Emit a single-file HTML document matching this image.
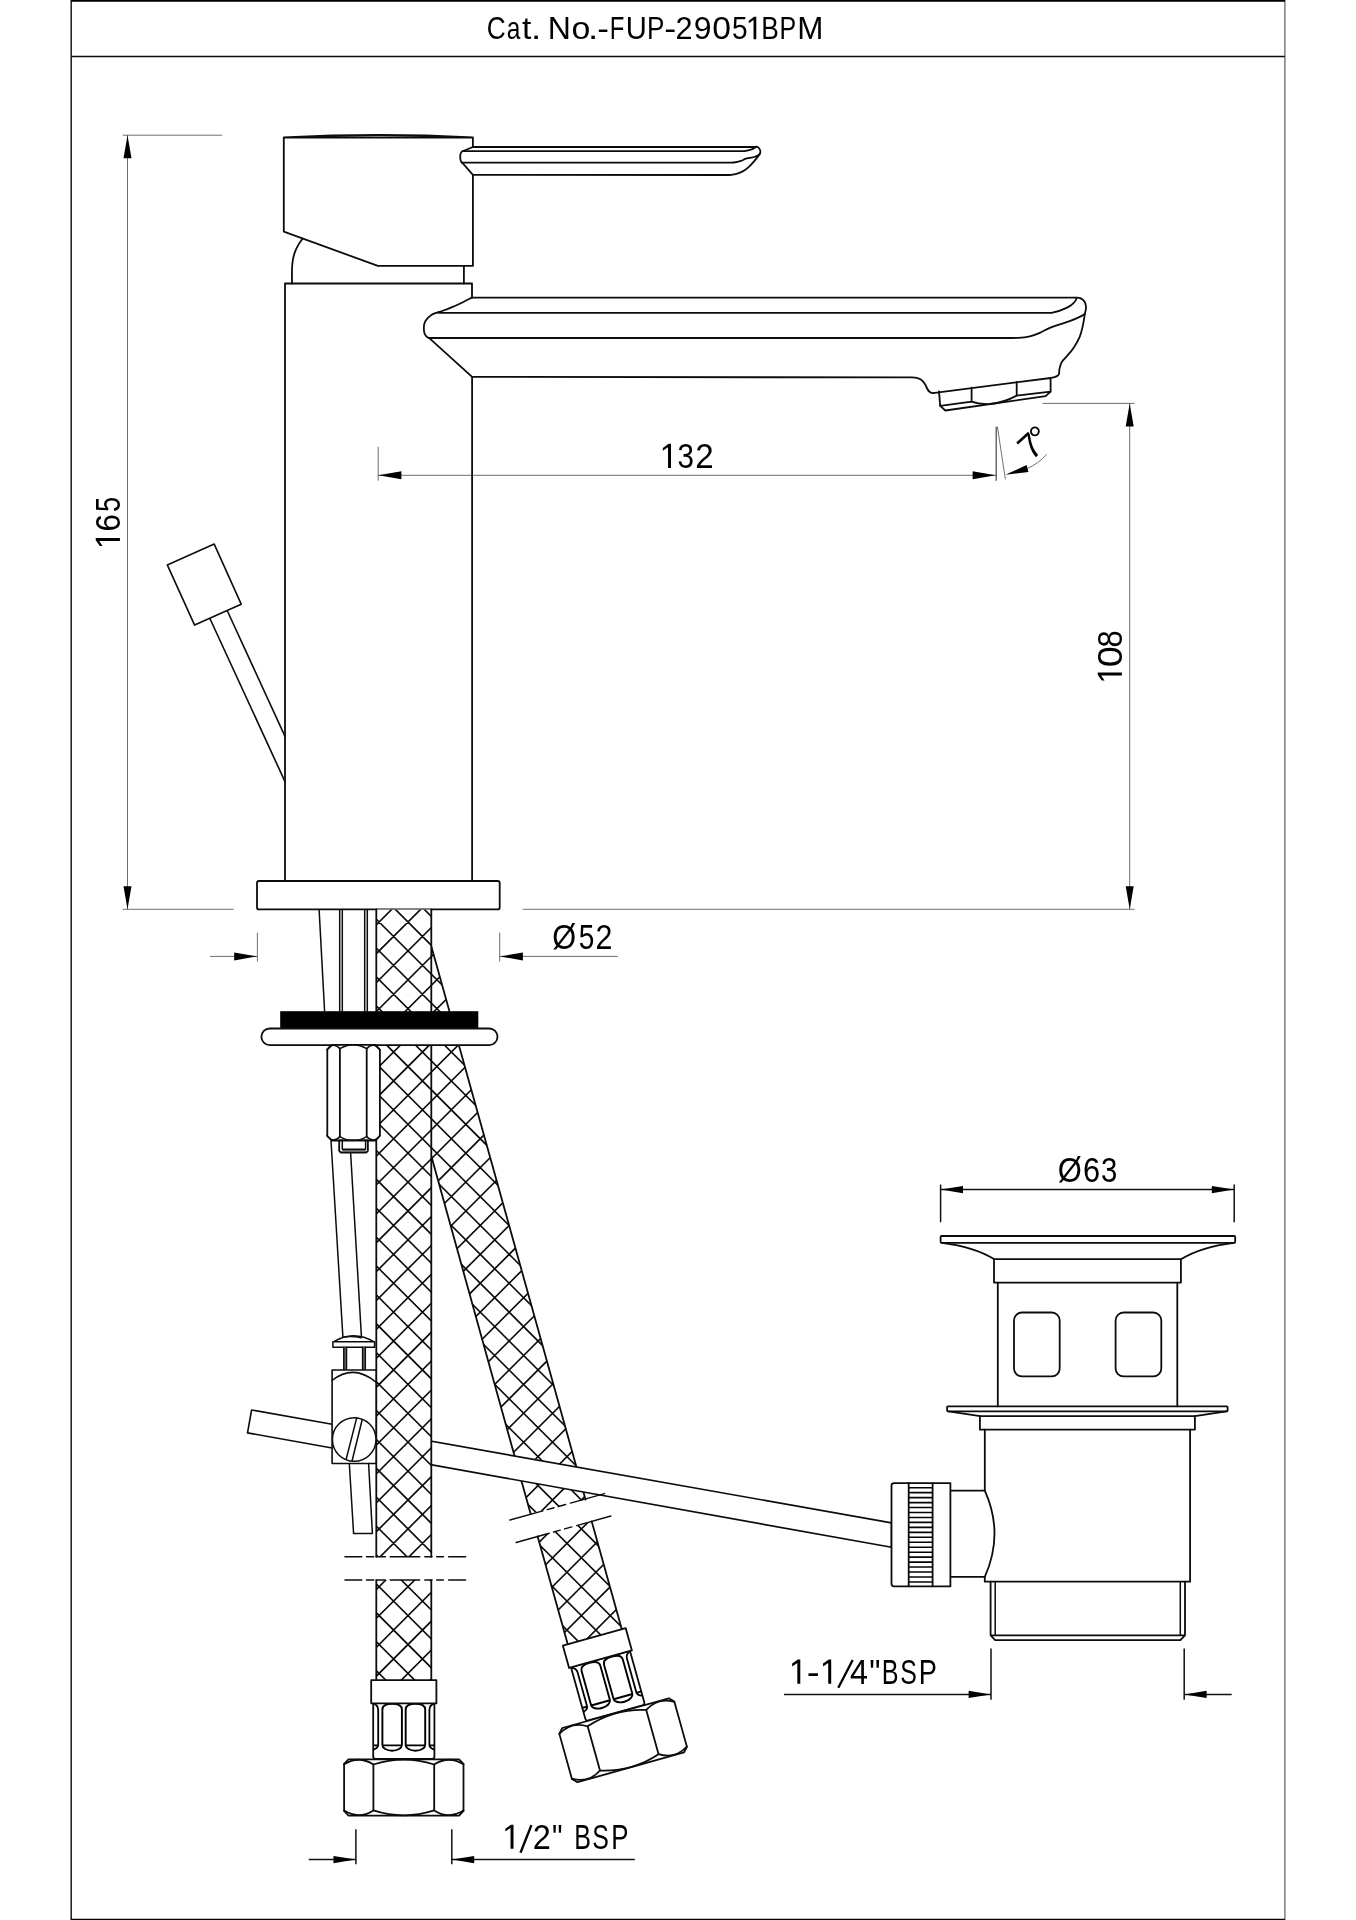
<!DOCTYPE html>
<html><head><meta charset="utf-8"><title>Cat. No.-FUP-29051BPM</title>
<style>
html,body{margin:0;padding:0;background:#fff}
svg{display:block;filter:grayscale(1)}
text{font-family:"Liberation Sans",sans-serif;fill:#000}
.m{fill:none;stroke:#0c0c0c;stroke-width:1.8;stroke-linejoin:round;stroke-linecap:round}
.w{fill:#fff;stroke:#0c0c0c;stroke-width:1.8;stroke-linejoin:round;stroke-linecap:round}
.n{fill:none;stroke:#0c0c0c;stroke-width:1.5;stroke-linejoin:round;stroke-linecap:round}
.t{fill:none;stroke:#555;stroke-width:0.85}
.d{fill:none;stroke:#111;stroke-width:1.5}
.a{fill:#000;stroke:none}
</style></head><body>
<svg width="1356" height="1920" viewBox="0 0 1356 1920">
<rect x="0" y="0" width="1356" height="1920" fill="#fff"/>

<g id="frame">
<path d="M71.2,1920 V0" fill="none" stroke="#1a1a1a" stroke-width="1.5"/>
<path d="M1284.9,1920 V0" fill="none" stroke="#555" stroke-width="1.15"/>
<path d="M71.2,1919.5 H1284.9" fill="none" stroke="#000" stroke-width="1.5"/>
<path d="M71.2,0.9 H1284.9" fill="none" stroke="#000" stroke-width="1.8"/>
<path d="M71.2,56.5 H1284.9" fill="none" stroke="#0c0c0c" stroke-width="1.45"/>
<text transform="translate(486.66,39.2) scale(0.820,1)" font-size="32">C</text><text transform="translate(506.87,39.2) scale(0.766,1)" font-size="32">a</text><text transform="translate(522,39.2) scale(1.050,1)" font-size="32">t</text><text transform="translate(531.03,39.2) scale(1.150,1)" font-size="32">.</text><text transform="translate(547.77,39.2) scale(1.001,1)" font-size="32">N</text><text transform="translate(571.48,39.2) scale(1.059,1)" font-size="32">o</text><text transform="translate(588.08,39.2) scale(1.150,1)" font-size="32">.</text><text transform="translate(597.26,39.2) scale(1.097,1)" font-size="32">-</text><text transform="translate(609.74,39.2) scale(0.748,1)" font-size="32">F</text><text transform="translate(625.75,39.2) scale(0.913,1)" font-size="32">U</text><text transform="translate(647.06,39.2) scale(0.816,1)" font-size="32">P</text><text transform="translate(664.32,39.2) scale(1.122,1)" font-size="32">-</text><text transform="translate(675.56,39.2) scale(0.959,1)" font-size="32">2</text><text transform="translate(693.79,39.2) scale(1.001,1)" font-size="32">9</text><text transform="translate(712.29,39.2) scale(1.053,1)" font-size="32">0</text><text transform="translate(732.08,39.2) scale(0.877,1)" font-size="32">5</text><text transform="translate(761.14,39.2) scale(0.822,1)" font-size="32">B</text><text transform="translate(779.45,39.2) scale(0.781,1)" font-size="32">P</text><text transform="translate(797.13,39.2) scale(0.981,1)" font-size="32">M</text><path class="a" d="M756.3,39.2 L756.3,16.86 L754.09,16.86 L748.76,20.63 L748.76,23.2 L753.54,19.98 L753.54,39.2 Z"/>
</g>
<g id="dims">
<path class="t" d="M122.7,135.2 H222.3 M127.5,135.2 V909.3 M122.6,909.3 H233.6"/>
<path class="a" d="M127.5,135.2 L131.5,158.2 L123.5,158.2 Z"/>
<path class="a" d="M127.5,909.3 L123.5,886.3 L131.5,886.3 Z"/>
<g transform="translate(119.9,546.4) rotate(-90)"><text transform="translate(14.9,0) scale(0.909,1)" font-size="34.6">6</text><text transform="translate(34.31,0) scale(0.787,1)" font-size="34.6">5</text><path class="a" d="M8.45,0 L8.45,-24.16 L6.06,-24.16 L0.3,-20.08 L0.3,-17.3 L5.47,-20.78 L5.47,0 Z"/></g>
<path class="t" d="M378.2,446.8 V480.7 M378.2,475.3 H996.2"/>
<path d="M996.2,426.7 V480.7" fill="none" stroke="#444" stroke-width="1.2"/><path d="M997.4,426.7 L1005.4,479.4" fill="none" stroke="#333" stroke-width="0.7"/>
<path class="a" d="M378.4,475.3 L401.4,471.3 L401.4,479.3 Z"/>
<path class="a" d="M995.6,475.3 L972.6,479.3 L972.6,471.3 Z"/>
<text transform="translate(677.58,468) scale(0.854,1)" font-size="34.6">3</text><text transform="translate(695.14,468) scale(0.957,1)" font-size="34.6">2</text><path class="a" d="M671,468 L671,443.84 L668.61,443.84 L662.85,447.92 L662.85,450.7 L668.02,447.22 L668.02,468 Z"/>
<path class="t" d="M1027,468.6 Q1038,464 1046.8,454.3"/>
<path class="a" d="M1005.4,474.8 L1026.52,465 L1028.5,471.92 Z"/>
<text transform="translate(1031.3,461.4) rotate(-42.6)" font-size="35" text-anchor="start">7<tspan dx="-3.5">&#176;</tspan></text>
<path class="t" d="M1042.5,403.4 H1134.6 M1129.7,403.4 V909.3 M522.6,909.3 H1134.6"/>
<path class="a" d="M1129.7,403.4 L1133.7,426.4 L1125.7,426.4 Z"/>
<path class="a" d="M1129.7,909.3 L1125.7,886.3 L1133.7,886.3 Z"/>
<g transform="translate(1121.9,681.2) rotate(-90)"><text transform="translate(14.02,0) scale(1.094,1)" font-size="34.6">0</text><text transform="translate(33.77,0) scale(0.892,1)" font-size="34.6">8</text><path class="a" d="M8.8,0 L8.8,-24.16 L6.41,-24.16 L0.65,-20.08 L0.65,-17.3 L5.82,-20.78 L5.82,0 Z"/></g>
<path class="t" d="M257.4,932.7 V961.6 M210,956.4 H257.4 M499.7,932.7 V961.6 M499.7,956.4 H617.9"/>
<path class="a" d="M257.2,956.4 L234.2,960.4 L234.2,952.4 Z"/>
<path class="a" d="M499.9,956.4 L522.9,952.4 L522.9,960.4 Z"/>
<text transform="translate(552.22,948.7) scale(0.889,1)" font-size="34.6">&#216;</text><text transform="translate(578.68,948.7) scale(0.811,1)" font-size="34.6">5</text><text transform="translate(595.38,948.7) scale(0.881,1)" font-size="34.6">2</text>
</g>
<g id="faucet">
<path class="m" d="M283.8,137.5 L472.9,137.4 V147 M283.8,137.5 Q378,132.6 472.9,137.4 M472.9,174.9 V265.9 H377.9 L283.8,231.6 V137.5"/>
<path class="m" d="M472.9,147 H754.2 C754.6,146.87 755.78,146.47 756.6,146.7 C757.42,146.93 758.47,147.52 759.1,148.3 C759.73,149.08 760.28,150.52 760.4,151.4 C760.52,152.28 760.23,152.73 759.8,153.6 C759.37,154.47 758.73,155.33 757.8,156.6 C756.87,157.87 755.68,159.48 754.2,161.2 C752.72,162.92 750.73,165.25 748.9,166.9 C747.07,168.55 745.27,169.93 743.2,171.1 C741.13,172.27 738.72,173.25 736.5,173.9 C734.28,174.55 731,174.82 729.9,175 L472.9,174.9 L462.4,162.9 Q460.2,161.6 460.2,156.5 Q460.2,151.9 463.2,151 L472.9,147"/>
<path class="m" d="M462.5,151.1 H744.5 C745.38,150.9 748.32,150.32 749.8,149.9 C751.28,149.48 752.33,149.1 753.4,148.6 C754.47,148.1 755.73,147.18 756.2,146.9"/>
<path class="m" d="M461.6,162.6 H728 C728.98,162.58 731.73,162.78 733.9,162.5 C736.07,162.22 739.08,161.52 741,160.9 C742.92,160.28 743.93,159.3 745.4,158.8 C746.87,158.3 748.33,158.2 749.8,157.9 C751.27,157.6 752.8,157.42 754.2,157 C755.6,156.58 757.25,155.93 758.2,155.4 C759.15,154.87 759.62,154.07 759.9,153.8"/>
<path class="m" d="M302.7,238.6 C301.97,239.65 299.62,242.6 298.3,244.9 C296.98,247.2 295.72,249.82 294.8,252.4 C293.88,254.98 293.27,257.6 292.8,260.4 C292.33,263.2 292.13,265.35 292,269.2 C291.87,273.05 292,281.12 292,283.5 M463.9,265.9 V283.5"/>
<path class="m" d="M285,881 V283.5 H472 V297.6 M472.1,376.9 V881"/>
<path class="m" d="M472,297.6 H1076.4 C1077,297.68 1078.9,297.72 1080,298.1 C1081.1,298.48 1082.12,299.02 1083,299.9 C1083.88,300.78 1084.8,302.02 1085.3,303.4 C1085.8,304.78 1086.08,306.4 1086,308.2 C1085.92,310 1085.3,311.43 1084.8,314.2 C1084.3,316.97 1083.85,321.03 1083,324.8 C1082.15,328.57 1081.37,332.82 1079.7,336.8 C1078.03,340.78 1075.22,345.38 1073,348.7 C1070.78,352.02 1068.27,354.48 1066.4,356.7 C1064.53,358.92 1062.95,360.02 1061.8,362 C1060.65,363.98 1059.95,366.72 1059.5,368.6 C1059.05,370.48 1059.42,372.1 1059.1,373.3 C1058.78,374.5 1058.37,375.15 1057.6,375.8 C1056.83,376.45 1055.67,376.83 1054.5,377.2 C1053.33,377.57 1051.25,377.87 1050.6,378"/>
<path class="m" d="M472,297.6 C470.32,298.45 465.32,301.07 461.9,302.7 C458.48,304.33 454.8,306.02 451.5,307.4 C448.2,308.78 444.45,310.15 442.1,311 C439.75,311.85 439.13,311.87 437.4,312.5 C435.67,313.13 433.43,313.73 431.7,314.8 C429.97,315.87 428.22,317.45 427,318.9 C425.78,320.35 424.92,321.95 424.4,323.5 C423.88,325.05 423.85,326.63 423.85,328.2 C423.85,329.77 423.96,331.5 424.4,332.9 C424.84,334.3 425.68,335.72 426.5,336.6 C427.32,337.48 428.83,337.93 429.3,338.2 L472.1,376.9 L912.3,377.4 C919.5,377.4 923.5,380.7 925.6,385.2 C927.2,389 928.4,392.9 932.8,393.1"/>
<path class="m" d="M437.4,312.7 Q440,312.9 446,312.9 H1051.5 C1059,311.6 1074.3,306.5 1076.6,298.2"/>
<path class="m" d="M429,338 H1006 C1008,337.98 1014.02,338.13 1018,337.85 C1021.98,337.57 1026.25,337.12 1029.9,336.3 C1033.55,335.48 1036.58,334.32 1039.9,332.9 C1043.22,331.48 1046.48,329.23 1049.8,327.8 C1053.12,326.37 1056.48,325.4 1059.8,324.3 C1063.12,323.2 1066.38,322.43 1069.7,321.2 C1073.02,319.97 1077.18,318.12 1079.7,316.9 C1082.22,315.68 1083.95,314.4 1084.8,313.9"/>
<path class="m" d="M932.8,393.1 L1050.6,378 V391.6 L1045.6,396.2 L945.3,410.5 L940.2,405.9 L939,391.4"/>
<path class="m" d="M940.2,405.9 L971.6,401.7 V387.6 M1016.7,382 V395.6 L1050.6,391.6 M971.6,401.7 Q979,404.5 990,404 Q1004,402.5 1016.7,395.6"/>
<rect class="m" x="257" y="881" width="242.7" height="28.4" rx="2"/>
<path class="m" style="stroke-width:1.6" d="M167.3,564.9 L214.2,544.1 L241.2,604.2 L194.6,625.1 Z M209.9,618.5 L285,781.6 M227.4,611 L285,736.4"/>
</g>
<g id="under">
<path class="m" style="stroke-width:1.5" d="M319.1,909.4 L324.6,1011.5"/>
<path class="n" d="M339.7,909.4 V1011.5 M342.3,909.4 V1011.5 M364.7,909.4 V1011.5 M367.3,909.4 V1011.5"/>
<clipPath id="hc1"><path d="M431.3,946.2 L585.5,1499.6 L530.6,1513.8 L431.1,1155.3 L420,1155.3 L420,946.2 Z"/></clipPath><path d="M431.3,946.2 L585.5,1499.6 L530.6,1513.8 L431.1,1155.3 L420,1155.3 L420,946.2 Z" fill="#fff" stroke="none"/><path clip-path="url(#hc1)" d="M418,883.1 L590,711.1 M418,912 L590,740 M418,940.9 L590,768.9 M418,969.8 L590,797.8 M418,998.7 L590,826.7 M418,1027.6 L590,855.6 M418,1056.5 L590,884.5 M418,1085.4 L590,913.4 M418,1114.3 L590,942.3 M418,1143.2 L590,971.2 M418,1172.1 L590,1000.1 M418,1201 L590,1029 M418,1229.9 L590,1057.9 M418,1258.8 L590,1086.8 M418,1287.7 L590,1115.7 M418,1316.6 L590,1144.6 M418,1345.5 L590,1173.5 M418,1374.4 L590,1202.4 M418,1403.3 L590,1231.3 M418,1432.2 L590,1260.2 M418,1461.1 L590,1289.1 M418,1490 L590,1318 M418,1518.9 L590,1346.9 M418,1547.8 L590,1375.8 M418,1576.7 L590,1404.7 M418,1605.6 L590,1433.6 M418,1634.5 L590,1462.5 M418,1663.4 L590,1491.4 M418,1692.3 L590,1520.3 M418,1721.2 L590,1549.2 M418,1567.8 L590,1739.8 M418,1538.9 L590,1710.9 M418,1510 L590,1682 M418,1481.1 L590,1653.1 M418,1452.2 L590,1624.2 M418,1423.3 L590,1595.3 M418,1394.4 L590,1566.4 M418,1365.5 L590,1537.5 M418,1336.6 L590,1508.6 M418,1307.7 L590,1479.7 M418,1278.8 L590,1450.8 M418,1249.9 L590,1421.9 M418,1221 L590,1393 M418,1192.1 L590,1364.1 M418,1163.2 L590,1335.2 M418,1134.3 L590,1306.3 M418,1105.4 L590,1277.4 M418,1076.5 L590,1248.5 M418,1047.6 L590,1219.6 M418,1018.7 L590,1190.7 M418,989.8 L590,1161.8 M418,960.9 L590,1132.9 M418,932 L590,1104 M418,903.1 L590,1075.1 M418,874.2 L590,1046.2 M418,845.3 L590,1017.3 M418,816.4 L590,988.4 M418,787.5 L590,959.5 M418,758.6 L590,930.6 M418,729.7 L590,901.7" fill="none" stroke="#0c0c0c" stroke-width="1.65"/>
<path class="m" d="M431.3,946.2 L585.5,1499.6 M431.1,1155.3 L530.6,1513.8"/>
<path class="w" style="stroke-width:1.6" d="M251.6,1410 L332.1,1424.25 L340,1425.01 L891.5,1522.85 L891.5,1547.3 L340,1448.36 L332.1,1448 L247.5,1432.9 Z"/>
<clipPath id="hc2"><path d="M376.3,909.4 H431.3 V1556.8 H376.3 Z"/></clipPath><path d="M376.3,909.4 H431.3 V1556.8 H376.3 Z" fill="#fff" stroke="none"/><path clip-path="url(#hc2)" d="M374,869.3 L434,809.3 M374,898.2 L434,838.2 M374,927.1 L434,867.1 M374,956 L434,896 M374,984.9 L434,924.9 M374,1013.8 L434,953.8 M374,1042.7 L434,982.7 M374,1071.6 L434,1011.6 M374,1100.5 L434,1040.5 M374,1129.4 L434,1069.4 M374,1158.3 L434,1098.3 M374,1187.2 L434,1127.2 M374,1216.1 L434,1156.1 M374,1245 L434,1185 M374,1273.9 L434,1213.9 M374,1302.8 L434,1242.8 M374,1331.7 L434,1271.7 M374,1360.6 L434,1300.6 M374,1389.5 L434,1329.5 M374,1418.4 L434,1358.4 M374,1447.3 L434,1387.3 M374,1476.2 L434,1416.2 M374,1505.1 L434,1445.1 M374,1534 L434,1474 M374,1562.9 L434,1502.9 M374,1591.8 L434,1531.8 M374,1620.7 L434,1560.7 M374,1649.6 L434,1589.6 M374,1610.5 L434,1670.5 M374,1581.6 L434,1641.6 M374,1552.7 L434,1612.7 M374,1523.8 L434,1583.8 M374,1494.9 L434,1554.9 M374,1466 L434,1526 M374,1437.1 L434,1497.1 M374,1408.2 L434,1468.2 M374,1379.3 L434,1439.3 M374,1350.4 L434,1410.4 M374,1321.5 L434,1381.5 M374,1292.6 L434,1352.6 M374,1263.7 L434,1323.7 M374,1234.8 L434,1294.8 M374,1205.9 L434,1265.9 M374,1177 L434,1237 M374,1148.1 L434,1208.1 M374,1119.2 L434,1179.2 M374,1090.3 L434,1150.3 M374,1061.4 L434,1121.4 M374,1032.5 L434,1092.5 M374,1003.6 L434,1063.6 M374,974.7 L434,1034.7 M374,945.8 L434,1005.8 M374,916.9 L434,976.9 M374,888 L434,948 M374,859.1 L434,919.1 M374,830.2 L434,890.2 M374,801.3 L434,861.3" fill="none" stroke="#0c0c0c" stroke-width="1.65"/>
<path class="m" d="M376.3,909.4 V1556.8 M431.3,909.4 V1556.8"/>
<clipPath id="hc3"><path d="M376.3,1580.1 H431.3 V1680.1 H376.3 Z"/></clipPath><path d="M376.3,1580.1 H431.3 V1680.1 H376.3 Z" fill="#fff" stroke="none"/><path clip-path="url(#hc3)" d="M374,1534 L434,1474 M374,1562.9 L434,1502.9 M374,1591.8 L434,1531.8 M374,1620.7 L434,1560.7 M374,1649.6 L434,1589.6 M374,1678.5 L434,1618.5 M374,1707.4 L434,1647.4 M374,1736.3 L434,1676.3 M374,1765.2 L434,1705.2 M374,1794.1 L434,1734.1 M374,1726.1 L434,1786.1 M374,1697.2 L434,1757.2 M374,1668.3 L434,1728.3 M374,1639.4 L434,1699.4 M374,1610.5 L434,1670.5 M374,1581.6 L434,1641.6 M374,1552.7 L434,1612.7 M374,1523.8 L434,1583.8 M374,1494.9 L434,1554.9 M374,1466 L434,1526" fill="none" stroke="#0c0c0c" stroke-width="1.65"/>
<path class="m" d="M376.3,1580.1 V1680.1 M431.3,1580.1 V1680.1"/>
<rect x="280.2" y="1011.2" width="198.1" height="17.4" fill="#000"/>
<rect class="w" x="261.4" y="1028.5" width="236.1" height="16.6" rx="8.3"/>
<path class="w" d="M331.8,1044.9 H375.4 L379.9,1049.6 V1135.8 L375.4,1140.5 H331.8 L327.3,1135.8 V1049.6 Z"/>
<path class="m" d="M339.9,1048.7 V1136.6 M366.7,1048.7 V1136.6"/>
<path class="n" d="M326.9,1049.7 Q333.3,1041.2 339.9,1048.7 Q353.3,1040.7 366.7,1048.7 Q373.3,1041.2 379.7,1049.7 M326.9,1135.6 Q333.3,1144.1 339.9,1136.6 Q353.3,1144.6 366.7,1136.6 Q373.3,1144.1 379.7,1135.6"/>
<path class="w" d="M339.2,1140.5 H367.9 V1150.8 L366.2,1152.5 H340.9 L339.2,1150.8 Z"/>
<path d="M342.3,1149.2 H365.6 V1152 H342.3 Z" fill="#666" stroke="none"/>
<path class="n" d="M342.3,1140.5 V1149.2 H365.6 V1140.5"/>
<path class="m" style="stroke-width:1.5" d="M331,1140.5 L342.9,1337.1 M350.6,1152.5 L361.5,1337.9"/>
<path class="w" style="stroke-width:1.5" d="M333.4,1341.8 Q353.7,1329.5 374.2,1341.8 Z"/>
<path class="m" style="stroke-width:1.4" d="M342.9,1337.1 Q352,1335.6 361.5,1337.9"/>
<rect class="w" style="stroke-width:1.5" x="332.9" y="1341.8" width="41.7" height="5.4"/>
<path d="M343.8,1347.2 H346.5 V1370 H343.8 Z M362.6,1347.2 H365.3 V1370 H362.6 Z" fill="#777" stroke="none"/>
<path class="n" d="M343.8,1347.2 V1370 M346.5,1347.2 V1370 M362.6,1347.2 V1370 M365.3,1347.2 V1370"/>
<rect class="w" style="stroke-width:1.6" x="332.1" y="1370" width="44" height="93.5"/>
<path class="m" style="stroke-width:1.5" d="M332.1,1380.4 Q353.5,1363.5 376,1382.1"/>
<circle class="w" style="stroke-width:1.5" cx="354.2" cy="1439.5" r="21.8"/>
<path class="m" style="stroke-width:1.5" d="M356.7,1417.9 L346.3,1458.8 M362.1,1420 L352.1,1460.8"/>
<path class="m" style="stroke-width:1.5" d="M349.3,1463.5 L353.6,1533.6 H372.4 L368.6,1463.5"/>
<path class="m" style="stroke-width:1.5" stroke-linecap="butt" d="M345,1556.8 H361.8 M366.5,1556.8 H373.7 M376.3,1556.8 H385.4 M390.2,1556.8 H419.7 M424.8,1556.8 H432 M436.7,1556.8 H443.4 M448.6,1556.8 H465.6"/>
<path class="m" style="stroke-width:1.5" stroke-linecap="butt" d="M345,1580.1 H361.8 M366.5,1580.1 H373.7 M376.3,1580.1 H385.4 M390.2,1580.1 H419.7 M424.8,1580.1 H432 M436.7,1580.1 H443.4 M448.6,1580.1 H465.6"/>
<g transform="translate(403.8,1680.1)"><path class="w" d="M-30.6,23 V76.4 Q-30.6,78.9 -28.1,78.9 H28.1 Q30.6,78.9 30.6,76.4 V23 Z"/><path d="M-1.9,29.5 C-1.9,25.5 -6.19,23.7 -11.65,23.7 C-17.11,23.7 -21.4,25.5 -21.4,29.5 V65 C-21.4,68 -17.11,70.6 -11.65,70.6 C-6.19,70.6 -1.9,68 -1.9,65 Z M-1.9,65.3 H-21.4" fill="none" stroke="#000" stroke-width="1.9" stroke-linejoin="round"/><path d="M-30.6,23.6 Q-25.6,25 -25.6,30 V65 Q-25.6,68 -30.6,69.5 M-30.6,65.2 H-25.6" fill="none" stroke="#000" stroke-width="1.8" stroke-linejoin="round"/><path d="M1.9,29.5 C1.9,25.5 6.19,23.7 11.65,23.7 C17.11,23.7 21.4,25.5 21.4,29.5 V65 C21.4,68 17.11,70.6 11.65,70.6 C6.19,70.6 1.9,68 1.9,65 Z M1.9,65.3 H21.4" fill="none" stroke="#000" stroke-width="1.9" stroke-linejoin="round"/><path d="M30.6,23.6 Q25.6,25 25.6,30 V65 Q25.6,68 30.6,69.5 M30.6,65.2 H25.6" fill="none" stroke="#000" stroke-width="1.8" stroke-linejoin="round"/><rect class="w" x="-32.6" y="0" width="65.2" height="23.2"/><path class="w" d="M-55.3,79.2 H55.3 L59.7,83.8 V130.9 L55.3,135.5 H-55.3 L-59.7,130.9 V83.8 Z"/><path class="m" d="M-30.4,84.4 V130.3 M30.4,84.4 V130.3"/><path class="m" d="M-59.7,84.2 Q-45,75 -30.4,84.4 Q0,74.6 30.4,84.4 Q45,75 59.7,84.2 M-59.7,130.5 Q-45,139.7 -30.4,130.3 Q0,140.1 30.4,130.3 Q45,139.7 59.7,130.5"/></g>
<clipPath id="hc4"><path d="M537.67,1536.47 L591.7,1521.38 L621.8,1629.16 L567.76,1644.25 Z"/></clipPath><path d="M537.67,1536.47 L591.7,1521.38 L621.8,1629.16 L567.76,1644.25 Z" fill="#fff" stroke="none"/><path clip-path="url(#hc4)" d="M530,1464.7 L630,1364.7 M530,1493.6 L630,1393.6 M530,1522.5 L630,1422.5 M530,1551.4 L630,1451.4 M530,1580.3 L630,1480.3 M530,1609.2 L630,1509.2 M530,1638.1 L630,1538.1 M530,1667 L630,1567 M530,1695.9 L630,1595.9 M530,1724.8 L630,1624.8 M530,1753.7 L630,1653.7 M530,1782.6 L630,1682.6 M530,1679.8 L630,1779.8 M530,1650.9 L630,1750.9 M530,1622 L630,1722 M530,1593.1 L630,1693.1 M530,1564.2 L630,1664.2 M530,1535.3 L630,1635.3 M530,1506.4 L630,1606.4 M530,1477.5 L630,1577.5 M530,1448.6 L630,1548.6 M530,1419.7 L630,1519.7 M530,1390.8 L630,1490.8 M530,1361.9 L630,1461.9" fill="none" stroke="#0c0c0c" stroke-width="1.65"/>
<path class="m" d="M537.67,1536.47 L567.76,1644.25 M591.7,1521.38 L621.8,1629.16"/>
<path class="m" style="stroke-width:1.4" stroke-linecap="butt" d="M516.19,1542.46 L549.23,1533.24 M553.56,1532.03 L560.31,1530.15 M564.64,1528.94 L571.86,1526.92 M576.68,1525.58 L610.87,1516.03"/>
<path class="m" style="stroke-width:1.4" stroke-linecap="butt" d="M509.93,1520.02 L542.96,1510.8 M547.3,1509.59 L554.04,1507.71 M558.37,1506.5 L565.6,1504.48 M570.41,1503.13 L604.61,1493.59"/>
<g transform="translate(594.25,1636.85) rotate(-15.6)"><path class="w" d="M-30.6,23 V76.4 Q-30.6,78.9 -28.1,78.9 H28.1 Q30.6,78.9 30.6,76.4 V23 Z"/><path d="M-1.9,29.5 C-1.9,25.5 -6.19,23.7 -11.65,23.7 C-17.11,23.7 -21.4,25.5 -21.4,29.5 V65 C-21.4,68 -17.11,70.6 -11.65,70.6 C-6.19,70.6 -1.9,68 -1.9,65 Z M-1.9,65.3 H-21.4" fill="none" stroke="#000" stroke-width="1.9" stroke-linejoin="round"/><path d="M-30.6,23.6 Q-25.6,25 -25.6,30 V65 Q-25.6,68 -30.6,69.5 M-30.6,65.2 H-25.6" fill="none" stroke="#000" stroke-width="1.8" stroke-linejoin="round"/><path d="M1.9,29.5 C1.9,25.5 6.19,23.7 11.65,23.7 C17.11,23.7 21.4,25.5 21.4,29.5 V65 C21.4,68 17.11,70.6 11.65,70.6 C6.19,70.6 1.9,68 1.9,65 Z M1.9,65.3 H21.4" fill="none" stroke="#000" stroke-width="1.9" stroke-linejoin="round"/><path d="M30.6,23.6 Q25.6,25 25.6,30 V65 Q25.6,68 30.6,69.5 M30.6,65.2 H25.6" fill="none" stroke="#000" stroke-width="1.8" stroke-linejoin="round"/><rect class="w" x="-32.6" y="0" width="65.2" height="23.2"/><path class="w" d="M-55.3,79.2 H55.3 L59.7,83.8 V130.9 L55.3,135.5 H-55.3 L-59.7,130.9 V83.8 Z"/><path class="m" d="M-30.4,84.4 V130.3 M30.4,84.4 V130.3"/><path class="m" d="M-59.7,84.2 Q-45,75 -30.4,84.4 Q0,74.6 30.4,84.4 Q45,75 59.7,84.2 M-59.7,130.5 Q-45,139.7 -30.4,130.3 Q0,140.1 30.4,130.3 Q45,139.7 59.7,130.5"/></g>
<path class="d" d="M355.9,1829.2 V1864.3 M451.8,1829.2 V1864.3 M308.8,1859.6 H355.9 M451.8,1859.6 H634.8"/>
<path class="a" d="M355.7,1859.6 L333.5,1863.3 L333.5,1855.9 Z"/>
<path class="a" d="M452,1859.6 L474.2,1855.9 L474.2,1863.3 Z"/>
<path d="M520.5,1852.78 L531.4,1825.1" fill="none" stroke="#000" stroke-width="2.35"/><text transform="translate(532.68,1848.8) scale(0.938,1)" font-size="34.6">2</text><text transform="translate(552.12,1848.8) scale(0.860,1)" font-size="34.6">&quot;</text><text transform="translate(574.25,1848.8) scale(0.723,1)" font-size="34.6">B</text><text transform="translate(592.34,1848.8) scale(0.720,1)" font-size="34.6">S</text><text transform="translate(611.27,1848.8) scale(0.750,1)" font-size="34.6">P</text><path class="a" d="M513.5,1848.8 L513.5,1824.64 L511.11,1824.64 L505.35,1828.72 L505.35,1831.5 L510.52,1828.02 L510.52,1848.8 Z"/>
</g>
<g id="drain">
<path class="d" d="M940.6,1184.6 V1222.2 M1234.2,1184.6 V1222.2 M940.6,1189.6 H1234.2"/>
<path class="a" d="M940.8,1189.6 L963,1185.9 L963,1193.3 Z"/>
<path class="a" d="M1234,1189.6 L1211.8,1193.3 L1211.8,1185.9 Z"/>
<text transform="translate(1057.72,1181.5) scale(0.893,1)" font-size="34.6">&#216;</text><text transform="translate(1082.93,1181.5) scale(0.890,1)" font-size="34.6">6</text><text transform="translate(1101.09,1181.5) scale(0.848,1)" font-size="34.6">3</text>
<rect class="m" x="940.6" y="1236" width="294.6" height="6.8" rx="1"/>
<path class="m" d="M942,1242.8 Q975,1247 994,1259.1 M1233.8,1242.8 Q1200.5,1247 1181.3,1259.1"/>
<rect class="m" x="994" y="1259.1" width="186.9" height="23.5"/>
<path class="m" d="M997.8,1282.6 V1406.3 M1177.3,1282.6 V1406.3"/>
<rect class="m" x="1014" y="1312.5" width="45.7" height="63.9" rx="8"/>
<rect class="m" x="1115.6" y="1312.5" width="45.7" height="63.9" rx="8"/>
<rect class="m" x="947.1" y="1406.3" width="280.5" height="5.1" rx="0.8"/>
<path class="m" d="M948.5,1411.4 L980.2,1416.1 M1226.5,1411.4 L1194.9,1416.1"/>
<rect class="m" x="979.9" y="1416.1" width="215" height="13.6"/>
<path class="m" d="M984.8,1429.7 V1490.6 M984.8,1576.9 V1581.7 H1190.1 V1429.7"/>
<path class="m" d="M950.4,1490.6 H984.8 Q1004.2,1533.5 984.8,1576.9 H950.4"/>
<path class="w" d="M894,1483.1 H950.4 V1586.3 H894 Q891.5,1586.3 891.5,1583.8 V1485.6 Q891.5,1483.1 894,1483.1 Z"/>
<path class="m" d="M908.7,1483.1 V1586.3 M932.6,1483.1 V1586.3"/>
<path d="M908.7,1487.7 H932.6 M908.7,1492.66 H932.6 M908.7,1497.62 H932.6 M908.7,1502.58 H932.6 M908.7,1507.54 H932.6 M908.7,1512.5 H932.6 M908.7,1517.46 H932.6 M908.7,1522.42 H932.6 M908.7,1527.38 H932.6 M908.7,1532.34 H932.6 M908.7,1537.3 H932.6 M908.7,1542.26 H932.6 M908.7,1547.22 H932.6 M908.7,1552.18 H932.6 M908.7,1557.14 H932.6 M908.7,1562.1 H932.6 M908.7,1567.06 H932.6 M908.7,1572.02 H932.6 M908.7,1576.98 H932.6 M908.7,1581.94 H932.6" fill="none" stroke="#050505" stroke-width="1.6"/>
<path class="m" d="M990.6,1581.7 V1635.3 L995.2,1640.1 H1180.4 L1185,1635.3 V1581.7 M990.6,1635.3 H1185"/>
<path class="n" d="M995.2,1581.7 V1635.3 M1180.3,1581.7 V1635.3"/>
<path class="d" d="M991,1648.5 V1699.8 M1184.2,1648.5 V1699.8 M784,1694.4 H991 M1184.2,1694.4 H1231.7"/>
<path class="a" d="M990.8,1694.4 L968.6,1698.1 L968.6,1690.7 Z"/>
<path class="a" d="M1184.4,1694.4 L1206.6,1690.7 L1206.6,1698.1 Z"/>
<text transform="translate(806.79,1683.7) scale(1.121,1)" font-size="34.6">-</text><path d="M838.3,1687.68 L852.7,1660" fill="none" stroke="#000" stroke-width="2.35"/><text transform="translate(850.06,1683.7) scale(0.935,1)" font-size="34.6">4</text><text transform="translate(869.14,1683.7) scale(0.913,1)" font-size="34.6">&quot;</text><text transform="translate(881.73,1683.7) scale(0.728,1)" font-size="34.6">B</text><text transform="translate(900.19,1683.7) scale(0.720,1)" font-size="34.6">S</text><text transform="translate(918.77,1683.7) scale(0.788,1)" font-size="34.6">P</text><path class="a" d="M800.3,1683.7 L800.3,1659.54 L797.91,1659.54 L792.15,1663.62 L792.15,1666.4 L797.32,1662.92 L797.32,1683.7 Z M831.2,1683.7 L831.2,1659.54 L828.81,1659.54 L823.05,1663.62 L823.05,1666.4 L828.22,1662.92 L828.22,1683.7 Z"/>
</g>
</svg>
</body></html>
